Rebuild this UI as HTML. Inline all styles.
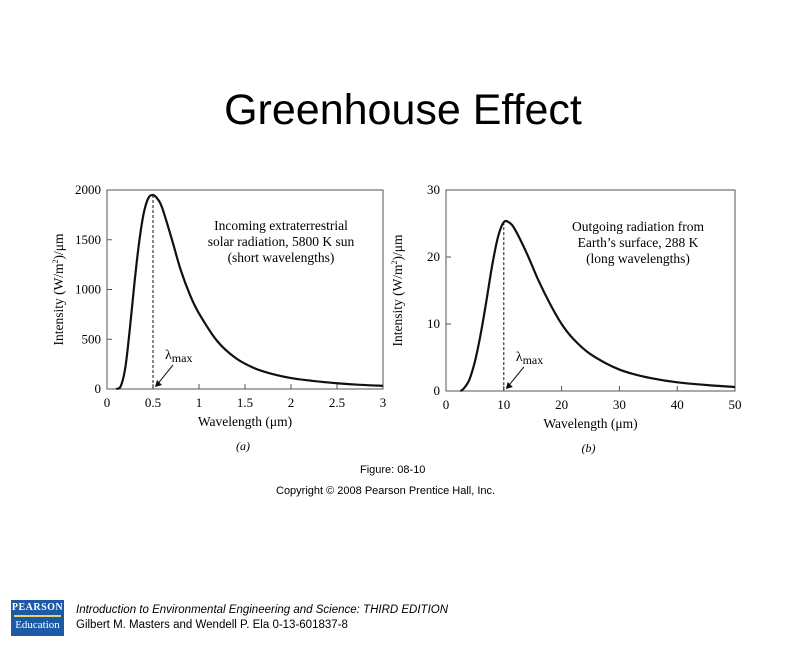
<!DOCTYPE html>
<html><head><meta charset="utf-8"><style>
body{margin:0;width:801px;height:648px;background:#fff;overflow:hidden;position:relative;font-family:"Liberation Sans",sans-serif}
.t{position:absolute}
</style></head><body>
<div class="t" style="left:0;width:806px;top:86px;text-align:center;font-size:43px;color:#000">Greenhouse Effect</div>
<svg class="t" style="left:0;top:0" width="801" height="648" id="svg"></svg>
<div class="t" style="left:360px;top:464px;font-size:11px">Figure: 08-10</div>
<div class="t" style="left:276px;top:485px;font-size:11px">Copyright © 2008 Pearson Prentice Hall, Inc.</div>
<div class="t" style="left:11px;top:600px;width:53px;height:36px;background:#1c5aa6;color:#fff;font-family:'Liberation Serif',serif;text-align:center">
<div style="font-size:10px;font-weight:bold;margin-top:2px;letter-spacing:0.5px">PEARSON</div>
<div style="height:2px;background:#e6d36a;margin:2px 3px"></div>
<div style="font-size:11px">Education</div></div>
<div class="t" style="left:76px;top:604px;font-size:11.5px;font-style:italic">Introduction to Environmental Engineering and Science: THIRD EDITION</div>
<div class="t" style="left:76px;top:619px;font-size:11.5px">Gilbert M. Masters and Wendell P. Ela 0-13-601837-8</div>
<script>
// Chart (a) data
const aWave=[0.1,0.15,0.2,0.25,0.3,0.35,0.4,0.45,0.5,0.55,0.6,0.7,0.8,0.9,1.0,1.2,1.4,1.6,1.8,2.0,2.25,2.5,2.75,3.0];
const aVal=[0,30,220,620,1080,1480,1770,1920,1950,1910,1820,1520,1200,950,760,480,310,210,150,110,80,58,42,32];
const aXTicks=[0,0.5,1,1.5,2,2.5,3];
const aXLabels=["0","0.5","1","1.5","2","2.5","3"];
const aYTicks=[0,500,1000,1500,2000];
// Chart (b) data
const bWave=[2.5,3,4,5,6,7,8,9,10,11,12,14,16,18,20,22,25,30,35,40,45,50];
const bVal=[0,0.3,1.6,4.4,8.5,13.5,18.8,23,25.2,25.1,24,20.5,16.5,13,10,7.8,5.5,3.2,2,1.3,0.9,0.6];
const bXTicks=[0,10,20,30,40,50];
const bYTicks=[0,10,20,30];
const NS="http://www.w3.org/2000/svg";
const svg=document.getElementById('svg');
function mk(tag,at,name,parent){const e=document.createElementNS(NS,tag);for(const k in at)e.setAttribute(k,at[k]);


(parent||svg).appendChild(e);return e;}
function chart(o){
 const sx=v=>o.x0+(v-o.xmin)/(o.xmax-o.xmin)*(o.x1-o.x0);
 const sy=v=>o.y0-(v/o.ymax)*(o.y0-o.y1);
 const g=mk('g',{},o.id);
 mk('rect',{x:o.x0,y:o.y1,width:o.x1-o.x0,height:o.y0-o.y1,fill:'none',stroke:'#555','stroke-width':1},o.id+'-frame',g);
 const F='font-family:"Liberation Serif",serif;font-size:13px';
 o.xt.forEach((t,i)=>{const x=sx(t);mk('line',{x1:x,x2:x,y1:o.y0,y2:o.y0-5,stroke:'#555'},'x-tick',g);
  const tx=mk('text',{x:x,y:o.y0+18,'text-anchor':'middle',style:F},'x-tick-label',g);tx.textContent=o.xl[i];});
 o.yt.forEach(t=>{const y=sy(t);mk('line',{x1:o.x0,x2:o.x0+5,y1:y,y2:y,stroke:'#555'},'y-tick',g);
  const tx=mk('text',{x:o.x0-6,y:y+4,'text-anchor':'end',style:F},'y-tick-label',g);tx.textContent=t;});
 const xl=mk('text',{x:(o.x0+o.x1)/2,y:o.y0+37,'text-anchor':'middle',style:F+';font-size:13.5px'},'x-axis-title',g);xl.textContent='Wavelength (μm)';
 const yl=mk('text',{x:0,y:0,'text-anchor':'middle',transform:`translate(${o.x0-44},${(o.y0+o.y1)/2}) rotate(-90)`,style:F+';font-size:13.5px'},'y-axis-title',g);
 yl.innerHTML='Intensity (W/m<tspan dy="-5" font-size="8">2</tspan><tspan dy="5">)/μm</tspan>';
 const pts=o.w.map((w,i)=>[sx(w),sy(o.v[i])]);
 let d='M'+pts[0][0]+','+pts[0][1];
 for(let i=0;i<pts.length-1;i++){const p0=pts[Math.max(0,i-1)],p1=pts[i],p2=pts[i+1],p3=pts[Math.min(pts.length-1,i+2)];
  d+=`C${p1[0]+(p2[0]-p0[0])/6},${p1[1]+(p2[1]-p0[1])/6} ${p2[0]-(p3[0]-p1[0])/6},${p2[1]-(p3[1]-p1[1])/6} ${p2[0]},${p2[1]}`;}
 mk('path',{d:d,fill:'none',stroke:'#111','stroke-width':2.2},'intensity-curve',g);
 let mi=0;o.v.forEach((v,i)=>{if(v>o.v[mi])mi=i;});
 const px=sx(o.w[mi]);
 mk('line',{x1:px,x2:px,y1:sy(o.v[mi]),y2:o.y0,stroke:'#111','stroke-dasharray':'3,2'},'lambda-max-line',g);
 mk('line',{x1:px+20,y1:o.y0-24,x2:px+3,y2:o.y0-3,stroke:'#111'},'lambda-max-arrow',g);
 mk('path',{d:`M${px+2},${o.y0-2} l2,-7 l5,5 z`,fill:'#111'},'arrowhead',g);
 const lm=mk('text',{x:px+12,y:o.y0-30,style:F+';font-size:14px'},'lambda-max-label',g);
 lm.innerHTML='λ<tspan dy="3" font-size="12">max</tspan>';
 o.note.forEach((s,i)=>{const t=mk('text',{x:o.nx,y:o.ny+i*16,'text-anchor':'middle',style:F+';font-size:13.5px'},'annotation',g);t.textContent=s;});
 const c=mk('text',{x:(o.x0+o.x1)/2-2,y:o.y0+61,'text-anchor':'middle',style:F+';font-style:italic;font-size:12px'},'panel-label',g);c.textContent=o.cap;
}
chart({id:'chart-a',x0:107,x1:383,y0:389,y1:190,xmin:0,xmax:3,ymax:2000,w:aWave,v:aVal,xt:aXTicks,xl:aXLabels,yt:aYTicks,
 note:['Incoming extraterrestrial','solar radiation, 5800 K sun','(short wavelengths)'],nx:281,ny:230,cap:'(a)'});
chart({id:'chart-b',x0:446,x1:735,y0:391,y1:190,xmin:0,xmax:50,ymax:30,w:bWave,v:bVal,xt:bXTicks,xl:bXTicks.map(String),yt:bYTicks,
 note:['Outgoing radiation from','Earth\u2019s surface, 288 K','(long wavelengths)'],nx:638,ny:231,cap:'(b)'});
</script>
</body></html>
